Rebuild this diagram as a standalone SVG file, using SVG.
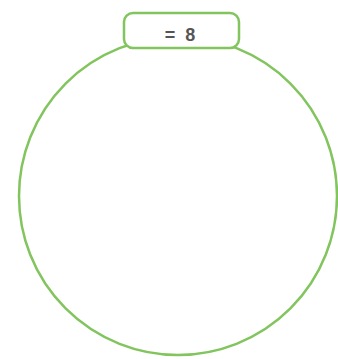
<svg xmlns="http://www.w3.org/2000/svg" width="338" height="359" viewBox="0 0 338 359">
<style>
.ring{fill:#ffffff;stroke:#82c45e;stroke-width:2.5}
.lbl{fill:#ffffff;stroke:#82c45e;stroke-width:2.5}
.txt{font-family:"Liberation Sans",Arial,sans-serif;font-size:18px;font-weight:bold;fill:#555555;text-anchor:middle;word-spacing:5px}
</style>
<rect width="338" height="359" fill="#ffffff"/>
<g id="circle">
<circle class="ring" cx="178" cy="196" r="159"/>
</g>
<g id="label">
<rect class="lbl" x="124" y="13" width="115" height="35" rx="9" ry="9"/>
<text class="txt" x="180" y="41">= 8</text>
</g>
</svg>
